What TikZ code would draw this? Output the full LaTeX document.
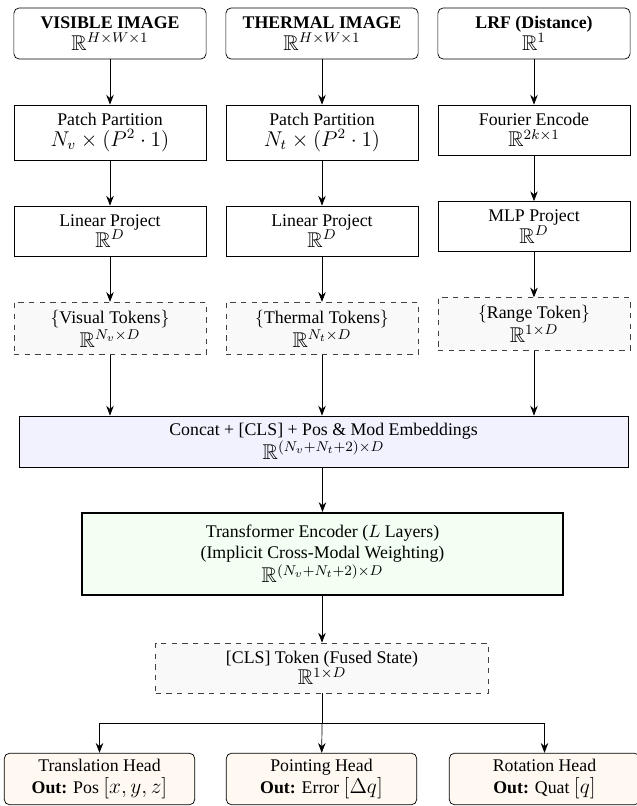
\documentclass[tikz,border=0pt]{standalone}
\usepackage{fontspec}
\setmainfont{Liberation Serif}
\usepackage{amsmath, amssymb}
\usetikzlibrary{arrows.meta}

\newcommand{\dimtxt}[1]{{\large $#1$}}

\begin{document}
\begin{tikzpicture}[x = 0.5618pt, y = -0.5618pt,
		box/.style = {draw, align = center, minimum width = 108pt, inner xsep = 3pt, inner ysep = 1.5pt},
		inbox/.style = {box, rounded corners = 3pt, minimum height = 28.7pt},
		tokbox/.style = {box, dashed, draw = black!75, fill = gray!5, minimum height = 29.5pt},
		headbox/.style = {box, rounded corners = 3pt, fill = orange!5, minimum width = 107pt, minimum height = 29pt},
		arr/.style = {-{Stealth[length = 5.5pt, width = 4.2pt]}}]
		%%%%%%%%%%%%%
		\useasboundingbox (0, 0) rectangle (637, 806);
		%%%%%%%%%%%%%
		\node [inbox] (vis) at (110, 33.5) {\textbf{VISIBLE IMAGE}\\ \dimtxt{\mathbb{R}^{H\times W\times 1}}};
		\node [inbox] (thm) at (322, 33.5) {\textbf{THERMAL IMAGE}\\ \dimtxt{\mathbb{R}^{H\times W\times 1}}};
		\node [inbox] (lrf) at (534, 33.5) {\textbf{LRF (Distance)}\\ \dimtxt{\mathbb{R}^{1}}};
		%%%%%%%%%%%%%
		\node [box, minimum height = 30.9pt] (vpatch) at (110, 132.5) {Patch Partition\\ \dimtxt{N_v \times (P^2 \cdot 1)}};
		\node [box, minimum height = 30.9pt] (tpatch) at (322, 132.5) {Patch Partition\\ \dimtxt{N_t \times (P^2 \cdot 1)}};
		\node [box, minimum height = 28.1pt] (four) at (534, 130) {Fourier Encode\\ \dimtxt{\mathbb{R}^{2k\times 1}}};
		%%%%%%%%%%%%%
		\node [box, minimum height = 28.1pt] (vlin) at (110, 231) {Linear Project\\ \dimtxt{\mathbb{R}^{D}}};
		\node [box, minimum height = 28.1pt] (tlin) at (322, 231) {Linear Project\\ \dimtxt{\mathbb{R}^{D}}};
		\node [box, minimum height = 28.1pt] (mlp) at (534, 226.5) {MLP Project\\ \dimtxt{\mathbb{R}^{D}}};
		%%%%%%%%%%%%%
		\node [tokbox] (vtok) at (110, 328.5) {$\{$Visual Tokens$\}$\\ \dimtxt{\mathbb{R}^{N_v\times D}}};
		\node [tokbox] (ttok) at (322, 328.5) {$\{$Thermal Tokens$\}$\\ \dimtxt{\mathbb{R}^{N_t\times D}}};
		\node [tokbox] (rtok) at (534, 324) {$\{$Range Token$\}$\\ \dimtxt{\mathbb{R}^{1\times D}}};
		%%%%%%%%%%%%%
		\node [box, fill = blue!5, minimum width = 342pt, minimum height = 28.7pt] (cat) at (323.5, 441.5)
			{Concat + [CLS] + Pos \& Mod Embeddings\\ \dimtxt{\mathbb{R}^{(N_v+N_t+2)\times D}}};
		\node [box, very thick, fill = green!5, minimum width = 270pt, minimum height = 46pt] (enc) at (322.5, 554)
			{Transformer Encoder ($L$ Layers)\\ (Implicit Cross-Modal Weighting)\\ \dimtxt{\mathbb{R}^{(N_v+N_t+2)\times D}}};
		\node [tokbox, minimum width = 187pt, minimum height = 28.1pt] (cls) at (322, 668)
			{[CLS] Token (Fused State)\\ \dimtxt{\mathbb{R}^{1\times D}}};
		\coordinate (split) at (322, 723);
		%%%%%%%%%%%%%
		\node [headbox] (trans) at (99.5, 779) {Translation Head\\ \textbf{Out:} Pos \dimtxt{[x, y, z]}};
		\node [headbox] (point) at (321.5, 779) {Pointing Head\\ \textbf{Out:} Error \dimtxt{[\Delta q]}};
		\node [headbox] (rot) at (544.5, 779) {Rotation Head\\ \textbf{Out:} Quat \dimtxt{[q]}};
		%%%%%%%%%%%%%
		\draw [arr] (vis) to (vpatch); \draw [arr] (vpatch) to (vlin); \draw [arr] (vlin) to (vtok);
		\draw [arr] (thm) to (tpatch); \draw [arr] (tpatch) to (tlin); \draw [arr] (tlin) to (ttok);
		\draw [arr] (lrf) to (four); \draw [arr] (four) to (mlp); \draw [arr] (mlp) to (rtok);
		\draw [arr] (vtok) to (vtok |- cat.north);
		\draw [arr] (ttok) to (ttok |- cat.north);
		\draw [arr] (rtok) to (rtok |- cat.north);
		\draw [arr] (cat.south -| enc) to (enc);
		\draw [arr] (enc.south -| cls) to (cls);
		\draw (cls) to (split);
		\draw [arr] (split) -| (trans);
		\draw [arr] (split) to (point);
		\draw [arr] (split) -| (rot);
\end{tikzpicture}
\end{document}
